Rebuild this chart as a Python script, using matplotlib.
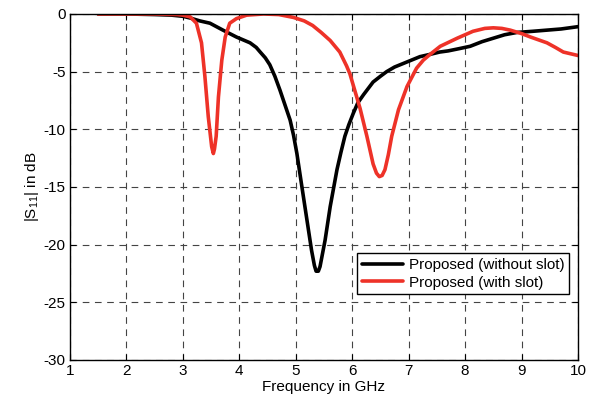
import matplotlib
matplotlib.use("Agg")
import matplotlib.pyplot as plt

plt.rcParams['font.family'] = ['Liberation Sans', 'DejaVu Sans']
plt.rcParams['axes.unicode_minus'] = False
plt.rcParams['mathtext.fontset'] = 'custom'
plt.rcParams['mathtext.rm'] = 'Liberation Sans'
plt.rcParams['mathtext.it'] = 'Liberation Sans:italic'

# Measured |S11| of the proposed antenna
freq_no_slot = [1.5, 2.0, 2.5, 2.8, 3.0, 3.13, 3.3, 3.48, 3.71, 3.95, 4.19, 4.3,
                4.37, 4.46, 4.54, 4.63, 4.72, 4.81, 4.9, 4.96, 5.02, 5.1, 5.19,
                5.28, 5.33, 5.36, 5.4, 5.43, 5.52, 5.61, 5.73, 5.8, 5.87, 5.94,
                6.02, 6.1, 6.2, 6.37, 6.5, 6.61, 6.75, 6.9, 7.05, 7.2, 7.38,
                7.55, 7.7, 7.9, 8.09, 8.3, 8.5, 8.7, 8.92, 9.2, 9.45, 9.7, 10.0]
s11_no_slot = [0.0, 0.0, -0.05, -0.1, -0.2, -0.35, -0.6, -0.8, -1.4, -2.0, -2.5,
               -2.9, -3.3, -3.8, -4.4, -5.4, -6.6, -7.9, -9.2, -10.5, -12.1,
               -14.7, -17.6, -20.5, -21.8, -22.3, -22.3, -21.9, -19.6, -16.7,
               -13.5, -12.0, -10.6, -9.6, -8.6, -7.7, -7.0, -5.9, -5.4, -5.0,
               -4.6, -4.3, -4.0, -3.7, -3.5, -3.3, -3.2, -3.0, -2.8, -2.4, -2.1,
               -1.8, -1.6, -1.5, -1.4, -1.3, -1.1]

freq_slot = [1.5, 2.5, 2.9, 3.0, 3.13, 3.24, 3.33, 3.39, 3.45, 3.51, 3.54, 3.56,
             3.59, 3.63, 3.69, 3.75, 3.83, 3.95, 4.13, 4.43, 4.7, 4.96, 5.15,
             5.3, 5.45, 5.61, 5.78, 5.9, 5.96, 6.08, 6.14, 6.26, 6.37, 6.43,
             6.48, 6.53, 6.58, 6.64, 6.7, 6.82, 6.97, 7.14, 7.26, 7.38, 7.56,
             7.86, 8.14, 8.35, 8.5, 8.65, 8.8, 9.0, 9.16, 9.45, 9.6, 9.74,
             9.87, 10.0]
s11_slot = [0.0, 0.0, -0.05, -0.1, -0.25, -0.8, -2.5, -5.4, -8.9, -11.5, -12.1,
            -11.7, -10.6, -7.2, -4.0, -2.0, -0.8, -0.4, -0.1, 0.0, -0.05, -0.3,
            -0.6, -1.0, -1.6, -2.3, -3.3, -4.5, -5.2, -7.2, -8.2, -10.6, -13.0,
            -13.8, -14.1, -14.0, -13.5, -12.2, -10.6, -8.3, -6.3, -4.7, -4.0,
            -3.5, -2.8, -2.1, -1.5, -1.25, -1.2, -1.25, -1.4, -1.7, -2.0, -2.5,
            -2.9, -3.3, -3.45, -3.6]

x_ticks = list(range(1, 11))
y_ticks = [0, -5, -10, -15, -20, -25, -30]

fig = plt.figure(figsize=(5.91, 4.03), dpi=100)
ax = fig.add_axes([0.1184, 0.1067, 0.8596, 0.8586])

ax.plot(freq_no_slot, s11_no_slot, color='black', lw=2.6,
        label='Proposed (without slot)', solid_joinstyle='round',
        solid_capstyle='round')
ax.plot(freq_slot, s11_slot, color='#EE3228', lw=2.6,
        label='Proposed (with slot)', solid_joinstyle='round',
        solid_capstyle='round')

ax.set_xlim(1, 10)
ax.set_ylim(-30, 0)
ax.set_xticks(x_ticks)
ax.set_yticks(y_ticks)
ax.tick_params(direction='in', top=True, right=True, labelsize=11, length=4,
               pad=3)
ax.grid(True, color='#444444', linestyle=(0, (6, 5)), linewidth=0.8)
for s in ax.spines.values():
    s.set_linewidth(1.0)

ax.set_xlabel('Frequency in GHz', fontsize=11, labelpad=1)
ax.set_ylabel('|S$_{11}$| in dB', fontsize=11, labelpad=2)

leg = ax.legend(loc='lower right', bbox_to_anchor=(0.983, 0.19), fontsize=11,
                fancybox=False, framealpha=1, edgecolor='black',
                handlelength=2.7, borderpad=0.3, labelspacing=0.25,
                handletextpad=0.4, borderaxespad=0)
leg.get_frame().set_linewidth(1.0)

fig.savefig('out.png', dpi=100)
